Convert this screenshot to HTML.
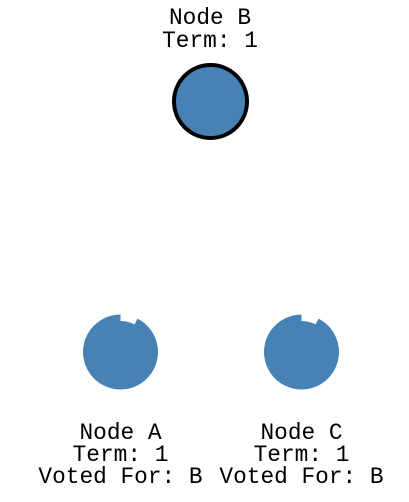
<!DOCTYPE html>
<html><head><style>
html,body{margin:0;padding:0;background:#fff;}
svg{display:block}
text{font-family:"Liberation Mono","Courier New",monospace;font-size:22.8px;fill:#000;text-anchor:middle}
</style></head><body>
<svg width="409" height="502" viewBox="0 0 409 502">
<text x="210" y="24">Node B</text>
<text x="210" y="47">Term: 1</text>
<circle cx="210.5" cy="101.5" r="36.5" fill="#4682b4" stroke="#000" stroke-width="4"/>

<g transform="translate(120.5,352)">
<path d="M0,-37.5 L0,-31 A31,31 0 0,1 14.07,-27.62 L17.03,-33.41 A37.5,37.5 0 1,1 0,-37.5 Z" fill="#4682b4"/>
</g>
<g transform="translate(301.5,352)">
<path d="M0,-37.5 L0,-31 A31,31 0 0,1 14.07,-27.62 L17.03,-33.41 A37.5,37.5 0 1,1 0,-37.5 Z" fill="#4682b4"/>
</g>

<text x="120.5" y="439">Node A</text>
<text x="120.5" y="461">Term: 1</text>
<text x="120.5" y="483">Voted For: B</text>
<text x="301.5" y="439">Node C</text>
<text x="301.5" y="461">Term: 1</text>
<text x="301.5" y="483">Voted For: B</text>
</svg>
</body></html>
